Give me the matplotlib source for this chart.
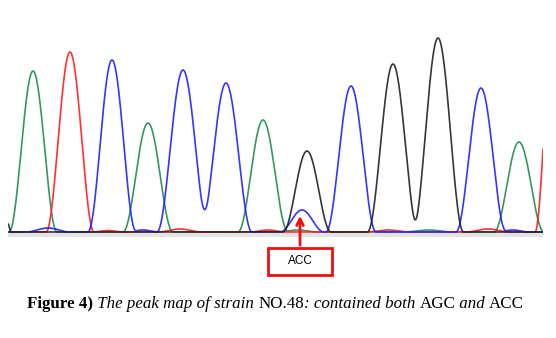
"""Sequencing peak map, strain NO.48"""
import numpy as np
import matplotlib
matplotlib.use("Agg")
import matplotlib.pyplot as plt
from matplotlib.patches import Rectangle

# ============== PEAKS ==============
# (scan position, height, half base width) per dye channel
GREEN_PEAKS = [(25, 161, 24), (140, 109, 25), (255, 112, 25), (511, 90, 25),
               (290, 2, 20), (420, 2, 25)]
RED_PEAKS = [(62, 180, 24), (545, 200, 18),
             (172, 3, 22), (260, 2, 18), (380, 2, 22), (480, 3, 22), (100, 1.5, 16)]
BLUE_PEAKS = [(104, 172, 24), (175, 162, 26), (218, 149, 26), (294, 22, 22),
              (343, 146, 25), (473, 144, 25), (40, 4, 22), (135, 2, 16), (505, 2, 16)]
BLACK_PEAKS = [(299, 81, 24), (385, 168, 25.5), (430, 194, 25.5), (0, 8, 3)]
SCAN_MAX = 535

CAPTION = [("Figure 4)", "bold", "normal"),
           (" The peak map of strain ", "normal", "italic"),
           ("NO.48", "normal", "normal"),
           (": contained both ", "normal", "italic"),
           ("AGC", "normal", "normal"),
           (" and ", "normal", "italic"),
           ("ACC", "normal", "normal")]
CALLOUT = "ACC"
CALLOUT_SCAN = 292
# ===================================

COLORS = {'G': '#1e8c50', 'R': '#ff1a1a', 'B': '#1f1fff', 'K': '#202020'}


def trace(peaks, x):
    """Sum of raised-cosine peaks."""
    y = np.zeros_like(x)
    for pos, h, half in peaks:
        d = np.abs(x - pos)
        y += np.where(d < half, h * np.cos(np.pi * d / (2 * half)) ** 2, 0.0)
    return y


fig = plt.figure(figsize=(5.56, 3.38), dpi=100)
ax = fig.add_axes([8 / 556, (338 - 237) / 338, 535 / 556, 217 / 338])
ax.set_xlim(0, SCAN_MAX)
ax.set_ylim(-5, 212)
ax.axis('off')

x = np.linspace(0, SCAN_MAX, 2000)
ax.axhspan(-5, -1.2, color='#e4e4e4', lw=0)
for peaks, c in [(GREEN_PEAKS, 'G'), (RED_PEAKS, 'R'), (BLUE_PEAKS, 'B'), (BLACK_PEAKS, 'K')]:
    ax.plot(x, trace(peaks, x), color=COLORS[c], lw=1.2, alpha=0.9)

# callout box + arrow pointing at the minor blue peak
ax.add_patch(Rectangle((260, -43), 64, 27, fill=False, ec='#ee1111', lw=2, clip_on=False))
ax.text(292, -29.5, CALLOUT, ha='center', va='center', fontsize=8.5,
        family='Liberation Sans', clip_on=False)
ax.annotate('', xy=(CALLOUT_SCAN, 19), xytext=(CALLOUT_SCAN, -16),
            arrowprops=dict(arrowstyle='->', color='#ee1111', lw=2, mutation_scale=12),
            annotation_clip=False)

# caption, built piece by piece so weights/styles can change mid-line
t = fig.text(27 / 556, 1 - 308 / 338, CAPTION[0][0], fontsize=12.2, family='Liberation Serif',
             weight=CAPTION[0][1], style=CAPTION[0][2], va='baseline')
prev = t
for txt, wt, st in CAPTION[1:]:
    prev = ax.annotate(txt, xy=(1, 0), xycoords=prev, va='bottom', ha='left',
                       fontsize=12.2, family='Liberation Serif', weight=wt, style=st,
                       annotation_clip=False)

fig.savefig('out.png', dpi=100)
